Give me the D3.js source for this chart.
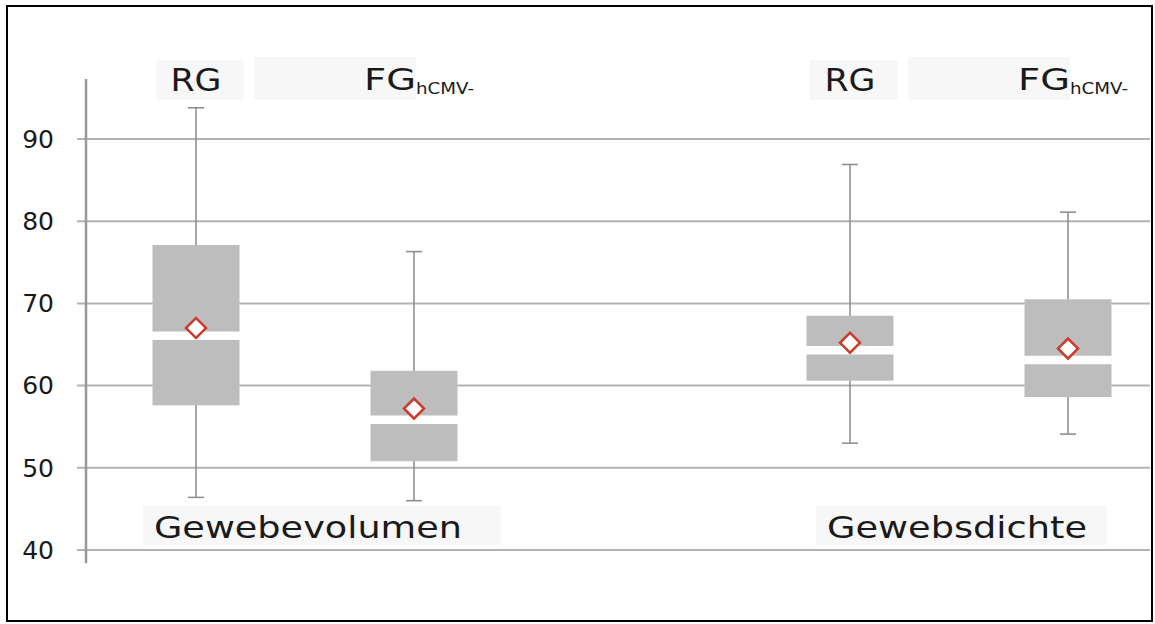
<!DOCTYPE html>
<html>
<head>
<meta charset="utf-8">
<script src="https://cdn.jsdelivr.net/npm/d3@7"></script>
<style>
  body { margin: 0; background: #fff; }
  svg { display: block; }
  text { font-family: "DejaVu Sans", "Noto Sans", sans-serif; fill: #1a1a1a; }
</style>
</head>
<body>
<div id="chart"></div>
<script>
// groups and boxes
const groups = ["Gewebevolumen", "Gewebsdichte"];
const series = ["RG", "FG"];
const slots = ["Gewebevolumen|RG", "Gewebevolumen|FG", "gap", "Gewebsdichte|RG", "Gewebsdichte|FG"];
const whiskerLow  = [46.4, 46.0, 53.0, 54.1];
const q1          = [57.6, 50.8, 60.6, 58.6];
const medians     = [66.05, 55.85, 64.3, 63.1];
const q3          = [77.1, 61.8, 68.5, 70.5];
const whiskerHigh = [93.8, 76.3, 86.9, 81.1];
const means       = [67.0, 57.2, 65.2, 64.5];
const yTicks = [40, 50, 60, 70, 80, 90];

const width = 1155, height = 624;

const svg = d3.select("#chart").append("svg")
    .attr("width", width)
    .attr("height", height);

// frame
svg.append("rect")
    .attr("x", 7).attr("y", 6)
    .attr("width", 1145).attr("height", 615)
    .attr("fill", "none")
    .attr("stroke", "#000")
    .attr("stroke-width", 2);

const y = d3.scaleLinear().domain([40, 90]).range([550, 139]);
const x = d3.scalePoint().domain(slots).range([196, 1068]);

const axisX = 86;
const gridRight = 1150;
const boxW = 87;

// gridlines
svg.append("g")
    .selectAll("line")
    .data(yTicks)
    .enter().append("line")
    .attr("x1", axisX - 9)
    .attr("x2", gridRight)
    .attr("y1", d => y(d))
    .attr("y2", d => y(d))
    .attr("stroke", "#b3b3b3")
    .attr("stroke-width", 2);

// y axis line
svg.append("line")
    .attr("x1", axisX).attr("x2", axisX)
    .attr("y1", y(97.3)).attr("y2", y(38.4))
    .attr("stroke", "#999")
    .attr("stroke-width", 2.5);

// tick labels
svg.append("g")
    .selectAll("text")
    .data(yTicks)
    .enter().append("text")
    .attr("x", 54)
    .attr("y", d => y(d))
    .attr("dy", "0.35em")
    .attr("text-anchor", "end")
    .attr("font-size", 25)
    .text(d => d);

const boxes = slots.filter(s => s !== "gap").map((s, i) => ({
    key: s,
    cx: x(s),
    lo: whiskerLow[i], q1: q1[i], med: medians[i], q3: q3[i], hi: whiskerHigh[i], mean: means[i]
}));

const box = svg.append("g").selectAll("g")
    .data(boxes)
    .enter().append("g");

// whiskers
box.append("line")
    .attr("x1", d => d.cx).attr("x2", d => d.cx)
    .attr("y1", d => y(d.hi)).attr("y2", d => y(d.lo))
    .attr("stroke", "#8a8a8a")
    .attr("stroke-width", 1.5);

box.selectAll(".cap")
    .data(d => [{cx: d.cx, v: d.hi}, {cx: d.cx, v: d.lo}])
    .enter().append("line")
    .attr("class", "cap")
    .attr("x1", d => d.cx - 8).attr("x2", d => d.cx + 8)
    .attr("y1", d => y(d.v)).attr("y2", d => y(d.v))
    .attr("stroke", "#8a8a8a")
    .attr("stroke-width", 1.5);

// box body
box.append("rect")
    .attr("x", d => d.cx - boxW / 2)
    .attr("y", d => y(d.q3))
    .attr("width", boxW)
    .attr("height", d => y(d.q1) - y(d.q3))
    .attr("fill", "#bdbdbd");

// median as a white gap
box.append("line")
    .attr("x1", d => d.cx - boxW / 2 - 1).attr("x2", d => d.cx + boxW / 2 + 1)
    .attr("y1", d => y(d.med)).attr("y2", d => y(d.med))
    .attr("stroke", "#fff")
    .attr("stroke-width", 8.5);

// mean diamond
box.append("path")
    .attr("d", d3.symbol().type(d3.symbolSquare).size(200))
    .attr("transform", d => `translate(${d.cx},${y(d.mean)}) rotate(45)`)
    .attr("fill", "#fff")
    .attr("stroke", "#cc3b2b")
    .attr("stroke-width", 2.5);

// series labels at top
const bg = "#f7f7f7";
boxes.forEach(d => {
    const s = d.key.split("|")[1];
    if (s === "RG") {
        svg.append("rect")
            .attr("x", d.cx - 40).attr("y", 60)
            .attr("width", 88).attr("height", 40)
            .attr("fill", bg);
        svg.append("text")
            .attr("x", d.cx).attr("y", 91)
            .attr("text-anchor", "middle")
            .attr("font-size", 32)
            .attr("textLength", 51)
            .attr("lengthAdjust", "spacingAndGlyphs")
            .text("RG");
    } else {
        svg.append("rect")
            .attr("x", d.cx - 160).attr("y", 57)
            .attr("width", 162).attr("height", 43)
            .attr("fill", bg);
        const t = svg.append("text")
            .attr("x", d.cx + 5).attr("y", 90)
            .attr("text-anchor", "middle")
            .attr("font-size", 31);
        t.append("tspan").text("FG")
            .attr("textLength", 52)
            .attr("lengthAdjust", "spacingAndGlyphs");
        t.append("tspan")
            .attr("font-size", 16)
            .attr("dy", 4)
            .attr("textLength", 58)
            .attr("lengthAdjust", "spacingAndGlyphs")
            .text("hCMV-");
    }
});

// group labels at bottom
const groupTextWidth = [308, 260];
const groupShift = [3, -2];
const groupPadRight = [39, 20];
groups.forEach((g, i) => {
    const cx = (x(g + "|RG") + x(g + "|FG")) / 2;
    const r = svg.append("rect").attr("fill", bg);
    const t = svg.append("text")
        .attr("x", cx + groupShift[i]).attr("y", 538)
        .attr("text-anchor", "middle")
        .attr("font-size", 31)
        .attr("textLength", groupTextWidth[i])
        .attr("lengthAdjust", "spacingAndGlyphs")
        .text(g);
    const b = t.node().getBBox();
    r.attr("x", b.x - 11).attr("y", 506)
        .attr("width", b.width + 11 + groupPadRight[i])
        .attr("height", 39);
});
</script>
</body>
</html>
